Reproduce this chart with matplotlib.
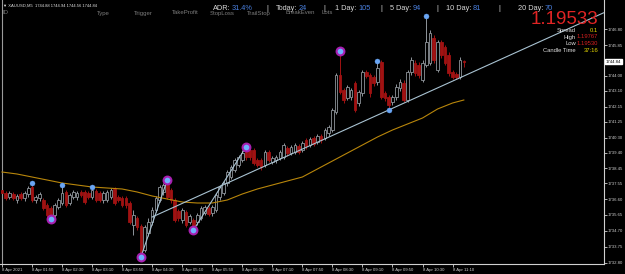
import matplotlib
matplotlib.use("Agg")
import matplotlib.pyplot as plt
import numpy as np

plt.rcParams['font.family'] = ['Liberation Sans', 'DejaVu Sans']

# XAUUSD M5, 8 Apr 2021, first bar 01:10
opens = [1737.15, 1736.97, 1736.73, 1736.91, 1736.55, 1736.91, 1736.67, 1736.91, 1737.33, 1736.55,
         1736.67, 1736.55, 1736.25, 1736.07, 1735.65, 1736.13, 1736.37, 1737.03, 1736.37, 1736.73,
         1736.73, 1737.03, 1737.03, 1736.97, 1736.73, 1737.09, 1736.97, 1736.55, 1736.55, 1736.73,
         1737.21, 1736.73, 1736.67, 1736.67, 1736.37, 1735.05, 1735.47, 1734.99, 1733.55, 1734.57,
         1735.23, 1735.95, 1736.55, 1737.03, 1737.57, 1737.15, 1736.55, 1735.89, 1735.35, 1735.83,
         1735.23, 1735.35, 1735.23, 1735.47, 1735.77, 1736.07, 1735.77, 1735.95, 1736.73, 1736.97,
         1737.57, 1737.93, 1738.35, 1738.65, 1738.95, 1739.55, 1739.55, 1739.55, 1738.95, 1738.95,
         1738.65, 1739.43, 1738.83, 1738.95, 1739.07, 1739.13, 1739.67, 1739.37, 1739.43, 1739.79,
         1739.55, 1740.15, 1739.85, 1740.27, 1740.03, 1740.39, 1740.27, 1740.57, 1740.75, 1741.83,
         1744.05, 1743.15, 1742.67, 1742.73, 1743.57, 1742.37, 1742.97, 1744.23, 1744.05, 1743.93,
         1743.63, 1744.83, 1742.97, 1742.73, 1742.43, 1742.73, 1743.27, 1743.57, 1742.55, 1744.23,
         1744.77, 1744.65, 1743.75, 1744.65, 1744.77, 1746.27, 1744.35, 1746.03, 1745.73, 1745.25,
         1744.23, 1744.11, 1743.93, 1744.88]
highs = [1737.27, 1737.09, 1737.09, 1737.03, 1736.91, 1737.03, 1737.09, 1737.39, 1737.57, 1736.85,
         1737.03, 1736.67, 1736.37, 1736.19, 1736.37, 1736.67, 1737.45, 1737.15, 1736.97, 1737.15,
         1737.09, 1737.15, 1737.15, 1737.09, 1737.33, 1737.21, 1737.09, 1737.09, 1737.15, 1737.27,
         1737.33, 1736.85, 1736.79, 1736.79, 1736.49, 1735.95, 1735.59, 1735.11, 1735.05, 1735.47,
         1736.13, 1736.79, 1737.45, 1737.57, 1737.75, 1737.27, 1736.67, 1736.01, 1736.07, 1735.95,
         1735.71, 1735.47, 1735.77, 1736.19, 1736.25, 1736.19, 1736.25, 1736.97, 1737.45, 1737.69,
         1738.35, 1738.65, 1739.07, 1739.25, 1739.55, 1739.73, 1739.67, 1739.67, 1739.07, 1739.07,
         1739.55, 1739.55, 1739.19, 1739.25, 1739.55, 1739.97, 1739.79, 1739.85, 1739.97, 1739.91,
         1740.09, 1740.27, 1740.33, 1740.39, 1740.51, 1740.51, 1740.87, 1741.05, 1742.07, 1744.17,
         1745.49, 1743.27, 1743.45, 1743.27, 1743.69, 1743.15, 1744.35, 1744.35, 1744.17, 1744.05,
         1744.89, 1744.95, 1743.09, 1742.85, 1742.85, 1743.51, 1743.81, 1743.75, 1744.35, 1745.13,
         1744.95, 1744.83, 1744.95, 1747.59, 1746.75, 1746.45, 1746.15, 1746.15, 1745.85, 1745.43,
         1744.35, 1744.23, 1745.13, 1744.94]
lows = [1736.85, 1736.55, 1736.61, 1736.55, 1736.37, 1736.55, 1736.49, 1736.73, 1736.43, 1736.37,
        1736.49, 1735.95, 1735.53, 1735.41, 1735.53, 1736.01, 1736.25, 1736.13, 1736.25, 1736.61,
        1736.55, 1736.73, 1736.31, 1736.61, 1736.61, 1736.43, 1736.43, 1736.37, 1736.43, 1736.61,
        1736.25, 1736.43, 1736.13, 1736.07, 1735.11, 1734.45, 1734.75, 1733.13, 1733.43, 1734.39,
        1735.05, 1735.83, 1736.43, 1736.85, 1736.61, 1736.37, 1735.23, 1735.29, 1735.17, 1734.93,
        1735.11, 1734.75, 1735.05, 1735.35, 1735.65, 1735.59, 1735.59, 1735.83, 1736.55, 1736.85,
        1737.39, 1737.81, 1738.23, 1738.53, 1738.83, 1738.95, 1738.95, 1738.65, 1738.53, 1738.35,
        1738.53, 1738.83, 1738.71, 1738.77, 1738.95, 1739.01, 1739.19, 1739.25, 1739.31, 1739.31,
        1739.43, 1739.61, 1739.73, 1739.79, 1739.91, 1739.97, 1740.15, 1740.39, 1740.63, 1741.71,
        1742.91, 1742.37, 1742.55, 1742.55, 1741.83, 1742.19, 1742.79, 1743.87, 1742.73, 1743.39,
        1743.45, 1742.61, 1742.49, 1741.95, 1742.25, 1742.55, 1743.09, 1742.43, 1742.43, 1744.05,
        1743.99, 1743.87, 1743.63, 1744.53, 1744.65, 1744.77, 1744.23, 1745.07, 1744.65, 1743.99,
        1743.81, 1743.81, 1743.81, 1744.56]
closes = [1736.97, 1736.67, 1736.97, 1736.67, 1736.79, 1736.67, 1736.97, 1737.27, 1736.55, 1736.73,
          1736.91, 1736.07, 1735.65, 1735.59, 1736.25, 1736.55, 1736.97, 1736.25, 1736.85, 1737.03,
          1736.97, 1736.85, 1736.43, 1736.73, 1737.15, 1736.55, 1736.55, 1736.97, 1737.03, 1737.15,
          1736.37, 1736.55, 1736.25, 1736.25, 1735.23, 1735.65, 1734.93, 1733.37, 1734.93, 1735.23,
          1735.95, 1736.67, 1737.33, 1737.45, 1736.73, 1736.55, 1735.35, 1735.47, 1735.95, 1735.05,
          1735.59, 1734.87, 1735.65, 1736.07, 1736.13, 1735.71, 1736.13, 1736.85, 1737.33, 1737.57,
          1738.23, 1738.53, 1738.95, 1739.13, 1739.37, 1739.13, 1739.13, 1738.77, 1738.65, 1738.53,
          1739.43, 1738.95, 1739.07, 1739.13, 1739.43, 1739.85, 1739.37, 1739.73, 1739.85, 1739.43,
          1739.97, 1739.79, 1740.21, 1739.91, 1740.39, 1740.15, 1740.75, 1740.93, 1741.95, 1744.05,
          1743.03, 1742.55, 1743.33, 1743.15, 1741.95, 1743.03, 1744.23, 1743.99, 1742.97, 1743.57,
          1744.47, 1742.73, 1742.67, 1742.25, 1742.73, 1743.33, 1743.63, 1742.55, 1744.23, 1744.95,
          1744.17, 1744.05, 1744.77, 1746.03, 1746.57, 1744.95, 1746.03, 1745.25, 1744.77, 1744.17,
          1743.93, 1743.93, 1744.95, 1744.84]

# moving average (read every 4 bars)
ma_bars = [0, 4, 8, 12, 16, 20, 24, 28, 32, 36, 40, 44, 48, 52, 56, 60, 64, 68, 72, 76,
           80, 84, 88, 92, 96, 100, 104, 108, 112, 116, 120, 123]
ma_vals = [1738.23, 1738.11, 1737.93, 1737.75, 1737.57, 1737.45, 1737.33, 1737.27, 1737.21, 1737.03,
           1736.79, 1736.61, 1736.43, 1736.37, 1736.37, 1736.55, 1736.91, 1737.21, 1737.45, 1737.69,
           1737.93, 1738.41, 1738.89, 1739.37, 1739.85, 1740.33, 1740.75, 1741.11, 1741.47, 1742.01,
           1742.37, 1742.55]

# trend line anchors and zigzag legs
trend_bars = [40, 103]
trend_vals = [1735.53, 1741.95]
zig_legs = [([37, 44], [1733.13, 1737.75]), ([51, 65], [1734.75, 1739.73])]

# swing markers: (bar, 'h'/'l')
purple_pts = [(13, 'l'), (37, 'l'), (44, 'h'), (51, 'l'), (65, 'h'), (90, 'h')]
blue_pts = [(8, 'h'), (16, 'h'), (24, 'h'), (100, 'h'), (103, 'l'), (113, 'h')]

time_ticks = list(range(0, 121, 8))
time_labels = ["8 Apr 2021", "8 Apr 01:50", "8 Apr 02:30", "8 Apr 03:10", "8 Apr 03:50",
               "8 Apr 04:30", "8 Apr 05:10", "8 Apr 05:50", "8 Apr 06:30", "8 Apr 07:10",
               "8 Apr 07:50", "8 Apr 08:30", "8 Apr 09:10", "8 Apr 09:50", "8 Apr 10:30",
               "8 Apr 11:10"]
price_labels = ["1732.80", "1733.75", "1734.70", "1735.65", "1736.60", "1737.55", "1738.45",
                "1739.40", "1740.30", "1741.25", "1742.15", "1743.10", "1744.00", "1745.85",
                "1746.80"]

W, H = 625, 274
fig = plt.figure(figsize=(W / 100, H / 100), dpi=100, facecolor='black')
ax = fig.add_axes([0, 10.5 / H, 603.5 / W, 263.5 / H])
ax.set_facecolor('black')

o = np.array(opens); h = np.array(highs); l = np.array(lows); c = np.array(closes)
idx = np.arange(len(o))
up = c >= o
bull_col = '#8f959b'
bear_col = '#a01212'

ax.vlines(idx[up], l[up], h[up], color=bull_col, lw=0.7, zorder=2)
ax.vlines(idx[~up], l[~up], h[~up], color=bear_col, lw=0.7, zorder=2)
ax.bar(idx[up], (c - o)[up], bottom=o[up], width=0.7, facecolor='black',
       edgecolor=bull_col, linewidth=0.6, zorder=3)
ax.bar(idx[~up], (o - c)[~up], bottom=c[~up], width=0.7, facecolor=bear_col,
       edgecolor=bear_col, linewidth=0.6, zorder=3)

ax.plot(ma_bars, ma_vals, color='#b8860b', lw=0.8, zorder=4)

xmin, xmax = -0.53, 160.2
slope = (trend_vals[1] - trend_vals[0]) / (trend_bars[1] - trend_bars[0])
ax.plot([trend_bars[0], xmax], [trend_vals[0], trend_vals[0] + slope * (xmax - trend_bars[0])],
        color='#a9c3d2', lw=0.8, zorder=5)
for bx, by in zig_legs:
    ax.plot(bx, by, color='#a9c3d2', lw=0.8, zorder=5)

for b, k in purple_pts:
    ax.plot(b, h[b] if k == 'h' else l[b], 'o', ms=5.6, mfc='#6fb2ff', mec='#a81fb0',
            mew=1.5, zorder=6)
for b, k in blue_pts:
    ax.plot(b, h[b] if k == 'h' else l[b], 'o', ms=3.6, mfc='#6aa6f5', mec='#6aa6f5',
            mew=0.3, zorder=6)

ax.set_xlim(xmin, xmax)
ax.set_ylim(1732.74, 1748.55)
for s in ['top', 'left']:
    ax.spines[s].set_visible(False)
for s in ['bottom', 'right']:
    ax.spines[s].set_color('#d0d0d0')
    ax.spines[s].set_linewidth(0.8)
ax.axvline(-0.1, color='#9a9a9a', lw=0.8)

ax.yaxis.tick_right()
ax.set_yticks([float(v) for v in price_labels])
ax.set_yticklabels(price_labels)
ax.set_xticks(time_ticks)
ax.set_xticklabels(time_labels, ha='left')
ax.tick_params(axis='y', direction='out', length=2, width=0.6, pad=1.2, labelsize=3.1,
               colors='#d0d0d0')
ax.tick_params(axis='x', direction='out', length=2, width=0.6, pad=1.5, labelsize=3.1,
               colors='#d0d0d0')


def px(x, y):
    return x / W, 1 - y / H


# header
fig.text(*px(3, 6), "\u25bc XAUUSD,M5  1744.88 1744.94 1744.56 1744.84", color='#e0e0e0',
         fontsize=3.0, va='center')
cols = [("ID", 3), ("Type", 97), ("Trigger", 134), ("TakeProfit", 172), ("StopLoss", 210),
        ("TrailStop", 247), ("BreakEven", 285), ("Lots", 322)]
for t, x in cols:
    fig.text(*px(x, 13), t, color='#7c7c7c', fontsize=4.3, va='center')

# ADR row: label ends before value start, value starts at its read position
adr = [("ADR:", "31.4%", 232), ("Today:", "24", 299), ("1 Day:", "105", 358),
       ("5 Day:", "94", 413), ("10 Day:", "81", 473), ("20 Day:", "70", 545)]
seps = [267, 324, 381, 437, 499]
for lab, val, x in adr:
    fig.text(*px(x - 1.5, 9.5), lab, color='#d8d8d8', fontsize=5.3, ha='right', va='baseline')
    fig.text(*px(x, 9.5), val, color='#4a80e0', fontsize=5.3, va='baseline')
for x in seps:
    fig.text(*px(x, 9.5), "|", color='#d8d8d8', fontsize=5.3, ha='center', va='baseline')

fig.text(*px(598, 24.5), "1.19533", color='#e02424', fontsize=13.5, ha='right', va='baseline')
info = [("Spread", "0.1", 32, '#e8d800'), ("High", "1.19767", 38.5, '#d42020'),
        ("Low", "1.19530", 45, '#d42020'), ("Candle Time", "37:16", 52, '#e8d800')]
for lab, val, y, col in info:
    fig.text(*px(576, y), lab, color='#e0e0e0', fontsize=4.2, ha='right', va='baseline')
    fig.text(*px(598, y), val, color=col, fontsize=4.2, ha='right', va='baseline')

fig.text(*px(606, 61.6), "1744.84", color='black', fontsize=3.1, va='center',
         bbox=dict(facecolor='white', edgecolor='white', pad=0.6))

fig.savefig('out.png', dpi=100, facecolor='black')
